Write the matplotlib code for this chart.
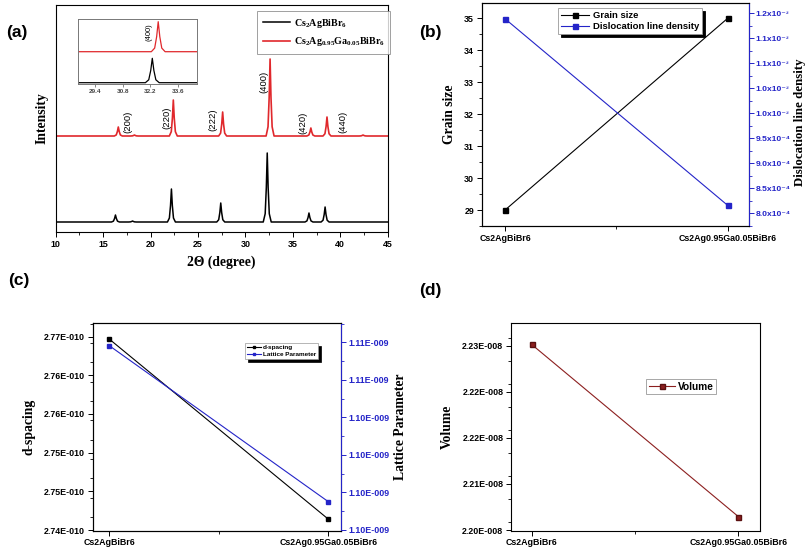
import matplotlib
matplotlib.use('Agg')
import matplotlib.pyplot as plt
from matplotlib.ticker import FixedLocator, FixedFormatter, MultipleLocator

plt.rcParams['font.family'] = ['Liberation Sans', 'DejaVu Sans']
plt.rcParams['mathtext.fontset'] = 'custom'
plt.rcParams['mathtext.rm'] = 'Liberation Serif:bold'
plt.rcParams['mathtext.bf'] = 'Liberation Serif:bold'
plt.rcParams['mathtext.it'] = 'Liberation Serif:bold:italic'

# ---- data ----
# (a) XRD peaks: position (2theta) and height above baseline
pure_pos = [16.3, 18.1, 22.2, 27.4, 32.3, 36.7, 38.4]
pure_h = [7, 1, 33, 19, 69, 9, 15]
ga_pos = [16.6, 18.3, 22.4, 27.6, 32.6, 36.9, 38.6, 42.4]
ga_h = [9, 1, 36, 24, 77, 8, 19, 1]
hkl_labels = ['(200)', '(220)', '(222)', '(400)', '(420)', '(440)']
hkl_x = [17.6, 21.7, 26.6, 31.9, 36.1, 40.3]
hkl_y = [110, 114, 112, 150, 109, 110]
inset_pure_h = 24.4
inset_ga_h = 30
xrd_ticks = [10, 15, 20, 25, 30, 35, 40, 45]
inset_ticks = [29.4, 30.8, 32.2, 33.6]

# (b)-(d)
samples = ['Cs2AgBiBr6', 'Cs2Ag0.95Ga0.05BiBr6']
grain_size = [29, 35]
dislocation = [1.189e-3, 8.163e-4]
d_spacing = [2.7696e-10, 2.7417e-10]
lattice = [1.10782e-9, 1.09951e-9]
volume = [2.2302e-8, 2.2022e-8]

disl_ticks = [8.0e-4, 8.5e-4, 9.0e-4, 9.5e-4, 1.0e-3, 1.05e-3, 1.1e-3, 1.15e-3, 1.2e-3]
disl_labels = ['8.0x10⁻⁴', '8.5x10⁻⁴', '9.0x10⁻⁴', '9.5x10⁻⁴', '1.0x10⁻³',
               '1.0x10⁻³', '1.1x10⁻³', '1.1x10⁻³', '1.2x10⁻³']
d_ticks = [2.740e-10, 2.746e-10, 2.752e-10, 2.758e-10, 2.764e-10, 2.770e-10]
d_labels = ['2.74E-010', '2.75E-010', '2.75E-010', '2.76E-010', '2.76E-010', '2.77E-010']
lat_ticks = [1.098e-9, 1.100e-9, 1.102e-9, 1.104e-9, 1.106e-9, 1.108e-9]
lat_labels = ['1.10E-009', '1.10E-009', '1.10E-009', '1.10E-009', '1.11E-009', '1.11E-009']
vol_ticks = [2.2e-8, 2.2075e-8, 2.215e-8, 2.2225e-8, 2.23e-8]
vol_labels = ['2.20E-008', '2.21E-008', '2.22E-008', '2.22E-008', '2.23E-008']

# ---- styles ----
RED = '#e0282c'
BLUE = '#2424c8'
DARKRED = '#8c1f1f'
TICK_FS = 6.4
LABEL_FONT = dict(family='Liberation Serif', weight='bold', size=9.8)
PEAK_DX = [-3.5, -1.8, -0.8, 0, 0.8, 1.8, 3.5]
PEAK_F = [0, 0.12, 0.5, 1, 0.5, 0.12, 0]

W, H = 808, 549
fig = plt.figure(figsize=(W / 100, H / 100), dpi=100)


def box(l, t, r, b):
    return [l / W, 1 - b / H, (r - l) / W, (b - t) / H]


def pattern(x0, x1, base, pos, hts, hw):
    xs, ys = [x0], [base]
    for p, h in zip(pos, hts):
        for dx, f in zip(PEAK_DX, PEAK_F):
            xs.append(p + dx * hw)
            ys.append(base + f * h)
    xs.append(x1)
    ys.append(base)
    return xs, ys


def style_ticks(ax, which_axis='both'):
    ax.tick_params(axis=which_axis, which='major', direction='out', length=3.5, width=0.7,
                   labelsize=TICK_FS, pad=2)
    ax.tick_params(axis=which_axis, which='minor', direction='out', length=2, width=0.6)
    for lab in ax.get_xticklabels() + ax.get_yticklabels():
        lab.set_fontweight('bold')


def cat_axis(ax):
    ax.set_xticks([0, 1])
    ax.set_xticklabels(samples)
    ax.xaxis.set_minor_locator(FixedLocator([0.5]))
    for s in ax.spines.values():
        s.set_linewidth(0.8)


# ---- (a) XRD ----
ax = fig.add_axes(box(55.7, 5, 387.7, 232))
x, y = pattern(10, 45, 10, pure_pos, pure_h, 0.12)
ax.plot(x, y, color='black', lw=1.1, label=r'$\mathrm{Cs_2AgBiBr_6}$')
x, y = pattern(10, 45, 96, ga_pos, ga_h, 0.12)
ax.plot(x, y, color=RED, lw=1.2, label=r'$\mathrm{Cs_2Ag_{0.95}Ga_{0.05}BiBr_6}$')
for lab, hx, hy in zip(hkl_labels, hkl_x, hkl_y):
    ax.text(hx, hy, lab, rotation=90, ha='center', va='center', fontsize=6.8)
ax.set_xlim(10, 45)
ax.set_ylim(0, 227)
ax.set_yticks([])
ax.set_xticks(xrd_ticks)
ax.xaxis.set_minor_locator(MultipleLocator(2.5))
style_ticks(ax, 'x')
for s in ax.spines.values():
    s.set_linewidth(0.8)
ax.set_xlabel('2Θ (degree)', **LABEL_FONT, labelpad=5)
ax.set_ylabel('Intensity', **LABEL_FONT, labelpad=5)
leg = ax.legend(loc='upper left', bbox_to_anchor=(257 / W, 1 - 11 / H), bbox_transform=fig.transFigure,
                fontsize=7.2, frameon=True, fancybox=False, edgecolor='#888888', borderaxespad=0,
                handlelength=2.7, handletextpad=0.4, labelspacing=0.55, borderpad=0.55)
leg.get_frame().set_linewidth(0.7)

# inset
axi = fig.add_axes(box(78.3, 19.3, 196.7, 84))
x, y = pattern(28.55, 34.55, 1.3, [pure_pos[4]], [inset_pure_h], 0.1)
axi.plot(x, y, color='black', lw=0.9)
x, y = pattern(28.55, 34.55, 32.3, [ga_pos[4]], [inset_ga_h], 0.1)
axi.plot(x, y, color=RED, lw=0.9)
axi.text(32.12, 52, '(400)', rotation=90, ha='center', va='center', fontsize=5.5)
axi.set_xlim(28.55, 34.55)
axi.set_ylim(0, 64.7)
axi.set_yticks([])
axi.set_xticks(inset_ticks)
axi.tick_params(axis='x', direction='out', length=2, width=0.5, labelsize=4.6, pad=1.5,
                colors='#555555', labelcolor='#444444')
for lab in axi.get_xticklabels():
    lab.set_fontweight('bold')
for s in axi.spines.values():
    s.set_color('#777777')
    s.set_linewidth(0.7)

fig.text(17 / W, 1 - 33 / H, '(a)', fontsize=12.5, fontweight='bold', ha='center', va='center')

# ---- (b) grain size / dislocation density ----
axb = fig.add_axes(box(481.7, 3, 749, 226))
axb.plot([0, 1], grain_size, color='black', lw=0.8, marker='s', ms=3.6, label='Grain size')
axb.set_xlim(-0.105, 1.096)
axb.set_ylim(28.5, 35.48)
axb.yaxis.set_minor_locator(MultipleLocator(0.5))
cat_axis(axb)
axb2 = axb.twinx()
axb2.plot([0, 1], dislocation, color=BLUE, lw=0.8, marker='s', ms=3.6, label='Dislocation line density')
axb2.set_ylim(7.75e-4, 1.2206e-3)
axb2.yaxis.set_major_locator(FixedLocator(disl_ticks))
axb2.yaxis.set_major_formatter(FixedFormatter(disl_labels))
axb2.yaxis.set_minor_locator(MultipleLocator(2.5e-5))
axb2.spines['right'].set_color(BLUE)
axb2.spines['right'].set_linewidth(0.8)
style_ticks(axb)
style_ticks(axb2)
axb2.tick_params(axis='y', which='both', colors=BLUE, labelsize=6.1, pad=1.5)
axb.set_ylabel('Grain size', **LABEL_FONT, labelpad=6)
fig.text(800 / W, 1 - 122 / H, 'Dislocation line density', rotation=90, ha='center', va='center',
         family='Liberation Serif', weight='bold', size=9.3)
h1, l1 = axb.get_legend_handles_labels()
h2, l2 = axb2.get_legend_handles_labels()
leg = axb2.legend(h1 + h2, l1 + l2, loc='upper left', bbox_to_anchor=(558 / W, 1 - 8 / H),
                  bbox_transform=fig.transFigure, prop={'weight': 'bold', 'size': 6.8},
                  fancybox=False, edgecolor='#999999', shadow={'color': 'black', 'alpha': 1},
                  borderaxespad=0, handlelength=3.0, handletextpad=0.4, labelspacing=0.25,
                  borderpad=0.3, numpoints=1, framealpha=1)
leg.get_frame().set_linewidth(0.6)
fig.text(430 / W, 1 - 32 / H, '(b)', fontsize=12.5, fontweight='bold', ha='center', va='center')

# ---- (c) d-spacing / lattice parameter ----
axc = fig.add_axes(box(92.7, 323, 340.7, 530.7))
axc.plot([0, 1], d_spacing, color='black', lw=0.8, marker='s', ms=3, label='d-spacing')
axc.set_xlim(-0.076, 1.057)
axc.set_ylim(2.7399e-10, 2.7721e-10)
axc.yaxis.set_major_locator(FixedLocator(d_ticks))
axc.yaxis.set_major_formatter(FixedFormatter(d_labels))
axc.yaxis.set_minor_locator(MultipleLocator(0.003e-10))
cat_axis(axc)
axc2 = axc.twinx()
axc2.plot([0, 1], lattice, color=BLUE, lw=0.8, marker='s', ms=3, label='Lattice Parameter')
axc2.set_ylim(1.09796e-9, 1.10903e-9)
axc2.yaxis.set_major_locator(FixedLocator(lat_ticks))
axc2.yaxis.set_major_formatter(FixedFormatter(lat_labels))
axc2.yaxis.set_minor_locator(MultipleLocator(0.001e-9))
axc2.spines['right'].set_color(BLUE)
axc2.spines['right'].set_linewidth(0.8)
style_ticks(axc)
style_ticks(axc2)
axc2.tick_params(axis='y', which='both', colors=BLUE)
axc.yaxis.get_offset_text().set_visible(False)
axc2.yaxis.get_offset_text().set_visible(False)
axc.set_ylabel('d-spacing', **LABEL_FONT, labelpad=6)
axc2.set_ylabel('Lattice Parameter', **LABEL_FONT, labelpad=3)
h1, l1 = axc.get_legend_handles_labels()
h2, l2 = axc2.get_legend_handles_labels()
leg = axc2.legend(h1 + h2, l1 + l2, loc='upper left', bbox_to_anchor=(245 / W, 1 - 343 / H),
                  bbox_transform=fig.transFigure, prop={'weight': 'bold', 'size': 4.6},
                  fancybox=False, edgecolor='#999999', shadow={'color': 'black', 'alpha': 1},
                  borderaxespad=0, handlelength=2.2, handletextpad=0.3, labelspacing=0.2,
                  borderpad=0.3, numpoints=1, framealpha=1, markerscale=0.7)
leg.get_frame().set_linewidth(0.5)
fig.text(19 / W, 1 - 281 / H, '(c)', fontsize=12.5, fontweight='bold', ha='center', va='center')

# ---- (d) volume ----
axd = fig.add_axes(box(511, 322.7, 760, 530.7))
axd.plot([0, 1], volume, color=DARKRED, lw=0.8, marker='s', ms=3.6, mec='#5a1010', label='Volume')
axd.set_xlim(-0.1, 1.105)
axd.set_ylim(2.1999e-8, 2.23374e-8)
axd.yaxis.set_major_locator(FixedLocator(vol_ticks))
axd.yaxis.set_major_formatter(FixedFormatter(vol_labels))
axd.yaxis.set_minor_locator(MultipleLocator(0.00375e-8))
axd.yaxis.get_offset_text().set_visible(False)
cat_axis(axd)
style_ticks(axd)
axd.set_ylabel('Volume', **LABEL_FONT, labelpad=6)
leg = axd.legend(loc='upper left', bbox_to_anchor=(646 / W, 1 - 379 / H), bbox_transform=fig.transFigure,
                 prop={'weight': 'bold', 'size': 7.3}, fancybox=False, edgecolor='#999999',
                 borderaxespad=0, handlelength=2.6, handletextpad=0.3, borderpad=0.25,
                 numpoints=1, framealpha=1)
leg.get_frame().set_linewidth(0.6)
fig.text(430 / W, 1 - 290 / H, '(d)', fontsize=12.5, fontweight='bold', ha='center', va='center')

fig.savefig('out.png', dpi=100)
